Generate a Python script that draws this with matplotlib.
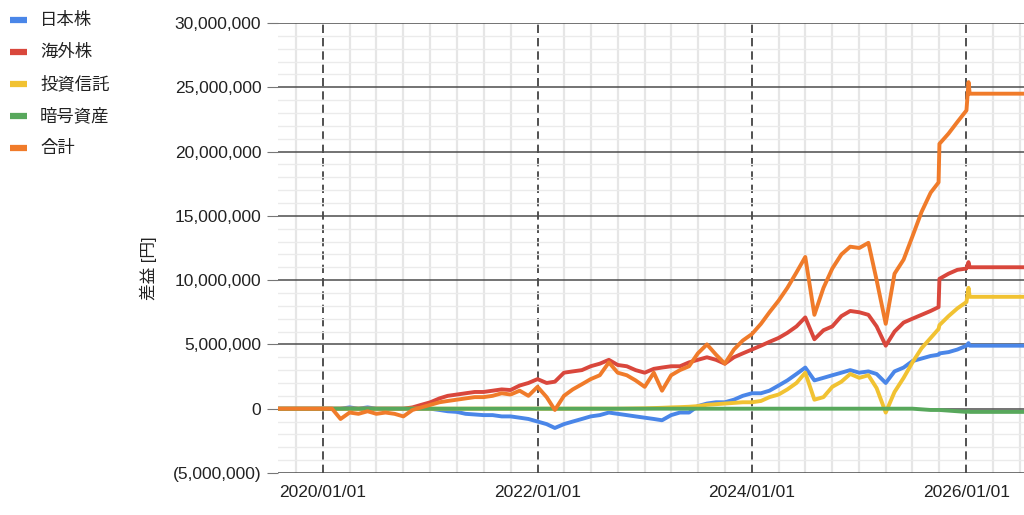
import matplotlib
matplotlib.use("Agg")
import matplotlib.pyplot as plt
import matplotlib.dates as mdates
from matplotlib.lines import Line2D
from matplotlib.ticker import FuncFormatter, MultipleLocator
import pandas as pd

plt.rcParams['font.family'] = ['Liberation Sans', 'Noto Sans CJK JP', 'DejaVu Sans']

# monthly readings (millions of yen), 2019/08 .. 2026/01, plus the jump in late
# Sep 2025, the spike just before the end, the last day and the flat tail
dates = list(pd.date_range('2019-08-01', '2025-09-01', freq='MS')) + \
    [pd.Timestamp('2025-09-28')] + \
    list(pd.date_range('2025-10-01', '2026-01-01', freq='MS')) + \
    [pd.Timestamp('2026-01-08'), pd.Timestamp('2026-01-12'), pd.Timestamp('2026-07-31')]

labels = ['日本株', '海外株', '投資信託', '暗号資産', '合計']
colors = ['#4a86e8', '#d9473c', '#f1c232', '#58a85c', '#f07b2a']

japan = [0, 0, 0, 0, 0,
         0, 0, 0, 0.1, 0, 0.1, 0, 0, 0, 0, 0, 0,
         0.0, -0.1, -0.2, -0.25, -0.4, -0.45, -0.5, -0.5, -0.6, -0.6, -0.7, -0.8,
         -1.0, -1.2, -1.5, -1.2, -1.0, -0.8, -0.6, -0.5, -0.3, -0.4, -0.5, -0.6,
         -0.7, -0.8, -0.9, -0.5, -0.3, -0.3, 0.2, 0.4, 0.5, 0.5, 0.7, 1.0,
         1.2, 1.2, 1.4, 1.8, 2.2, 2.7, 3.2, 2.2, 2.4, 2.6, 2.8, 3.0,
         2.8, 2.9, 2.7, 2.0, 2.9, 3.2, 3.7, 3.9, 4.1, 4.2, 4.3, 4.4, 4.6,
         4.9, 5.1, 4.9, 4.9]

foreign = [0, 0, 0, 0, 0,
           0, 0, 0, 0, 0, 0, 0, 0, 0, 0, 0.1, 0.3,
           0.5, 0.8, 1.0, 1.1, 1.2, 1.3, 1.3, 1.4, 1.5, 1.45, 1.8, 2.0,
           2.3, 2.0, 2.1, 2.8, 2.9, 3.0, 3.3, 3.5, 3.8, 3.4, 3.3, 3.0,
           2.8, 3.1, 3.2, 3.3, 3.3, 3.6, 3.8, 4.0, 3.8, 3.5, 4.0, 4.3,
           4.6, 4.9, 5.2, 5.5, 5.9, 6.4, 7.1, 5.4, 6.1, 6.4, 7.2, 7.6,
           7.5, 7.3, 6.4, 4.9, 6.0, 6.7, 7.0, 7.3, 7.6, 7.9, 10.1, 10.5, 10.8,
           10.9, 11.4, 11.0, 11.0]

funds = [0, 0, 0, 0, 0,
         0, 0, 0, 0, 0, 0, 0, 0, 0, 0, 0, 0,
         0, 0, 0, 0, 0, 0, 0, 0, 0, 0, 0, 0,
         0, 0, 0, 0, 0, 0, 0, 0, 0, 0, 0.01, 0.02,
         0.03, 0.05, 0.07, 0.1, 0.12, 0.15, 0.2, 0.3, 0.35, 0.4, 0.45, 0.5,
         0.5, 0.6, 0.9, 1.1, 1.5, 2.0, 2.8, 0.7, 0.9, 1.7, 2.1, 2.7,
         2.4, 2.6, 1.6, -0.3, 1.3, 2.4, 3.6, 4.7, 5.5, 6.2, 6.5, 7.2, 7.8,
         8.3, 9.4, 8.7, 8.7]

crypto = [0, 0, 0, 0, 0,
          0, 0, 0, 0, 0, 0, 0, 0, 0, 0, 0, 0,
          0, 0, 0, 0, 0, 0, 0, 0, 0, 0, 0, 0,
          0, 0, 0, 0, 0, 0, 0, 0, 0, 0, 0, 0,
          0, 0, 0, 0, 0, 0, 0, 0, 0, 0, 0, 0,
          0, 0, 0, 0, 0, 0, 0, 0, 0, 0, 0, 0,
          0, 0, 0, 0, 0, 0, 0, -0.05, -0.1, -0.1, -0.1, -0.15, -0.2,
          -0.25, -0.2, -0.25, -0.25]

total = [0, 0, 0, 0, 0,
         0, 0, -0.8, -0.3, -0.4, -0.2, -0.4, -0.3, -0.4, -0.6, -0.1, 0.1,
         0.3, 0.5, 0.6, 0.7, 0.8, 0.9, 0.9, 1.0, 1.2, 1.1, 1.4, 1.0,
         1.7, 0.9, -0.1, 1.0, 1.5, 1.9, 2.3, 2.6, 3.6, 2.8, 2.6, 2.2,
         1.7, 2.8, 1.4, 2.6, 3.0, 3.3, 4.3, 5.0, 4.2, 3.5, 4.6, 5.3,
         5.8, 6.6, 7.5, 8.4, 9.4, 10.6, 11.8, 7.3, 9.4, 10.9, 12.0, 12.6,
         12.5, 12.9, 10.0, 6.6, 10.5, 11.6, 13.4, 15.3, 16.8, 17.6, 20.6, 21.4, 22.3,
         23.2, 25.4, 24.5, 24.5]

series = [japan, foreign, funds, crypto, total]

fig = plt.figure(figsize=(10.24, 5.15), dpi=100)
ax = fig.add_axes([0.2715, 0.0816, 0.7285, 0.8738])

for vals, c, lab in zip(series, colors, labels):
    ax.plot(dates, [v * 1e6 for v in vals], color=c, lw=2.8, label=lab, zorder=3)

ax.set_ylim(-5e6, 30e6)
ax.set_xlim(pd.Timestamp('2019-08-01'), pd.Timestamp('2026-07-16'))

ax.yaxis.set_major_locator(MultipleLocator(5e6))
ax.yaxis.set_minor_locator(MultipleLocator(1e6))
ax.yaxis.set_major_formatter(FuncFormatter(
    lambda v, p: f'({abs(v):,.0f})' if v < 0 else f'{v:,.0f}'))

ax.xaxis.set_major_locator(mdates.YearLocator(2, month=1, day=1))
ax.xaxis.set_minor_locator(mdates.MonthLocator(bymonth=[1, 4, 7, 10]))
ax.xaxis.set_major_formatter(mdates.DateFormatter('%Y/%m/%d'))

ax.grid(which='major', axis='y', color='#4d4d4d', lw=1.1, zorder=1)
ax.grid(which='minor', axis='y', color='#ebebeb', lw=1.0, zorder=0)
ax.grid(which='minor', axis='x', color='#e6e6e6', lw=1.6, zorder=0)
ax.grid(which='major', axis='x', color='#333333', lw=1.2, ls=(0, (5, 3)), zorder=1)

for s in ax.spines.values():
    s.set_visible(False)

ax.tick_params(axis='y', which='major', length=8, color='#777777', labelsize=12.5,
               labelcolor='#222222', pad=4)
ax.tick_params(axis='y', which='minor', length=0)
ax.tick_params(axis='x', which='both', length=0, labelsize=12.5,
               labelcolor='#222222', pad=9)

fig.text(148 / 1024, 1 - 268 / 515, '差益 [円]', rotation=90, ha='center',
         va='center', fontsize=12, color='#222222')

# legend on the left
for i, (lab, c) in enumerate(zip(labels, colors)):
    y = 1 - (20 + 32 * i) / 515
    fig.add_artist(Line2D([10 / 1024, 27 / 1024], [y, y], color=c, lw=4.5,
                          solid_capstyle='butt'))
    fig.text(40 / 1024, y, lab, ha='left', va='center', fontsize=12.5, color='#222222')

fig.savefig('out.png', dpi=100)
